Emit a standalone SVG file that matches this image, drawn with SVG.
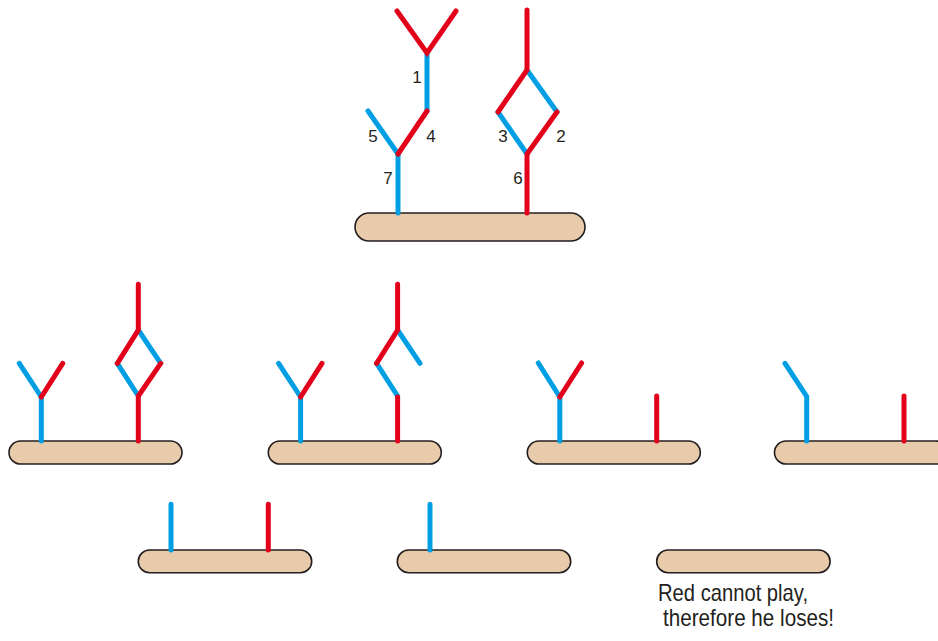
<svg xmlns="http://www.w3.org/2000/svg" width="938" height="641" viewBox="0 0 938 641">
<defs>
<style>
.bar{fill:#e8cbab;stroke:#231f20;stroke-width:1.6}
.r{stroke:#e2001a;stroke-width:5;stroke-linecap:round;fill:none}
.b{stroke:#009fe3;stroke-width:5;stroke-linecap:round;fill:none}
.lbl{font-family:"Liberation Sans",Arial,sans-serif;font-size:17px;fill:#231f20;text-anchor:middle}
.cap{font-family:"Liberation Sans",Arial,sans-serif;font-size:24px;fill:#231f20}
</style>
</defs>
<rect width="938" height="641" fill="#ffffff"/>

<g id="top">
<rect class="bar" x="355" y="213" width="230" height="28" rx="14"/>
<g id="top-edges">
<path class="b" d="M427,53 L427,111"/>
<path class="b" d="M368,111 L398,154"/>
<path class="b" d="M398,154 L398,213"/>
<path class="b" d="M527,70 L557,112"/>
<path class="b" d="M498,112 L527,154"/>
<path class="r" d="M397,11 L427,53 L456,11"/>
<path class="r" d="M427,111 L398,154"/>
<path class="r" d="M527,10 L527,70 L498,112"/>
<path class="r" d="M557,112 L527,154 L527,213"/>
</g>
<text class="lbl" x="417" y="83">1</text>
<text class="lbl" x="373" y="142">5</text>
<text class="lbl" x="431" y="142">4</text>
<text class="lbl" x="503" y="142">3</text>
<text class="lbl" x="561" y="142">2</text>
<text class="lbl" x="388" y="184">7</text>
<text class="lbl" x="518" y="184">6</text>
</g>

<g id="posA">
<rect class="bar" x="9" y="441" width="173" height="23" rx="11.5"/>
<path class="b" d="M41.3,441 L41.3,397 M19.3,363.3 L41.3,397"/>
<path class="r" d="M41.3,397 L62.7,363.3"/>
<path class="b" d="M138.3,330 L160.7,363.3 M117.3,363.3 L138.3,396"/>
<path class="r" d="M138.3,284.3 L138.3,330 L117.3,363.3 M160.7,363.3 L138.3,396 L138.3,441"/>
</g>

<g id="posB" transform="translate(259.3,0)">
<rect class="bar" x="9" y="441" width="173" height="23" rx="11.5"/>
<path class="b" d="M41.3,441 L41.3,397 M19.3,363.3 L41.3,397"/>
<path class="r" d="M41.3,397 L62.7,363.3"/>
<path class="b" d="M138.3,330 L160.7,363.3 M117.3,363.3 L138.3,396"/>
<path class="r" d="M138.3,284.3 L138.3,330 L117.3,363.3 M138.3,397 L138.3,441"/>
</g>

<g id="posC" transform="translate(518.3,0)">
<rect class="bar" x="9" y="441" width="173" height="23" rx="11.5"/>
<path class="b" d="M41.5,441 L41.5,397 M20,363 L41.5,397"/>
<path class="r" d="M41.5,397 L63.3,363"/>
<path class="r" d="M138.4,396 L138.4,441"/>
</g>

<g id="posD" transform="translate(765.5,0)">
<rect class="bar" x="9" y="441" width="173" height="23" rx="11.5"/>
<path class="b" d="M41.2,441 L41.2,396.5 L19.5,363.3"/>
<path class="r" d="M138.5,396 L138.5,441"/>
</g>

<g id="posE">
<rect class="bar" x="138.3" y="550" width="173.4" height="22.7" rx="11.3"/>
<path class="b" d="M171,504.3 L171,550"/>
<path class="r" d="M268.3,504.3 L268.3,550"/>
</g>

<g id="posF">
<rect class="bar" x="397.3" y="550" width="173.4" height="22.7" rx="11.3"/>
<path class="b" d="M430,504.3 L430,550"/>
</g>

<g id="posG">
<rect class="bar" x="656.7" y="550" width="173.4" height="22.7" rx="11.3"/>
<text class="cap" x="658" y="601" textLength="150" lengthAdjust="spacingAndGlyphs">Red cannot play,</text>
<text class="cap" x="663" y="626" textLength="171" lengthAdjust="spacingAndGlyphs">therefore he loses!</text>
</g>
</svg>
